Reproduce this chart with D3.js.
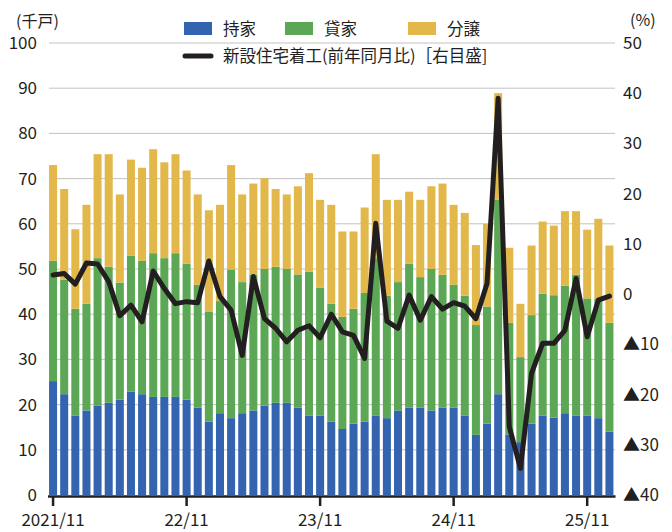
<!DOCTYPE html>
<html>
<head>
<meta charset="utf-8">
<script src="https://cdn.jsdelivr.net/npm/d3@7"></script>
<style>
  body { margin: 0; background: #fff; }
  svg text { font-family: "Noto Sans CJK JP", "Noto Sans", sans-serif; fill: #231f20; }
</style>
</head>
<body>
<div id="container"></div>
<script>
// Size of the svg
const width = 672;
const height = 532;

// Monthly categories, 2021/11 .. 2026/01
const months = [];
for (let y = 2021, m = 11; months.length < 51; m++) {
    if (m > 12) { m = 1; y++; }
    months.push(y + "-" + String(m).padStart(2, "0"));
}

// Housing starts, thousand units
const owner = [25.2, 22.3, 17.6, 18.7, 19.8, 20.4, 21.1, 22.9, 22.3, 21.7, 21.7, 21.7, 21.1,
    19.3, 16.2, 18.1, 17.0, 18.1, 18.7, 19.8, 20.4, 20.4, 19.3, 17.6, 17.6,
    16.2, 14.6, 15.8, 16.2, 17.6, 17.0, 18.7, 19.3, 19.3, 18.7, 19.3, 19.3,
    17.6, 13.3, 15.8, 22.3, 13.4, 11.7, 15.8, 17.6, 17.1, 18.1, 17.6, 17.6, 17.0, 14.0];
const rental = [26.6, 25.3, 23.6, 23.6, 32.6, 30.1, 25.9, 30.0, 29.5, 31.8, 30.7, 31.8, 30.1,
    27.2, 24.4, 24.8, 32.9, 29.0, 30.1, 30.2, 30.1, 29.6, 29.5, 31.8, 28.3,
    26.1, 24.8, 25.4, 28.5, 34.8, 27.1, 28.4, 31.9, 28.9, 31.3, 29.4, 27.2,
    26.5, 24.3, 25.9, 43.0, 24.7, 18.8, 24.0, 26.9, 27.1, 28.2, 31.1, 25.9, 26.5, 24.1];
const condo = [21.2, 20.1, 17.6, 21.9, 23.0, 24.9, 19.5, 21.3, 20.6, 23.0, 21.2, 21.9, 20.6,
    20.0, 22.4, 21.3, 23.1, 19.4, 20.1, 20.1, 17.2, 16.5, 19.5, 21.8, 19.4,
    21.9, 18.9, 17.1, 18.9, 23.0, 21.2, 18.2, 15.9, 17.1, 18.3, 20.2, 17.7,
    18.3, 17.7, 18.3, 23.6, 16.6, 11.8, 15.4, 16.0, 15.4, 16.5, 14.1, 15.2, 17.6, 17.1];

// Year-on-year change of total starts, % (right axis)
const yoy = [3.8, 4.1, 2.0, 6.2, 6.0, 2.5, -4.3, -2.2, -5.5, 4.6, 1.1, -1.9, -1.5,
    -1.7, 6.6, -0.5, -3.2, -12.2, 3.5, -4.9, -6.8, -9.5, -7.2, -6.3, -8.7,
    -4.0, -7.5, -8.2, -12.8, 14.1, -5.4, -6.8, -0.2, -5.2, -0.5, -3.0, -1.7,
    -2.4, -4.9, 2.1, 39.0, -26.4, -34.7, -15.8, -9.8, -9.8, -7.2, 3.1, -8.5, -1.2, -0.4];

// Tick labels on the x axis
const tickMonths = ["2021-11", "2022-11", "2023-11", "2024-11", "2025-11"];
const tickLabels = ["2021/11", "22/11", "23/11", "24/11", "25/11"];

// Series names and colours
const keys = ["owner", "rental", "condo"];
const names = ["持家", "貸家", "分譲"];
const colors = d3.scaleOrdinal().domain(keys).range(["#3463b0", "#5ca755", "#e2b84b"]);

const table = months.map((m, i) => ({ month: m, owner: owner[i], rental: rental[i], condo: condo[i] }));

const svg = d3.select("#container")
    .append("svg")
    .attr("width", width)
    .attr("height", height);

// Scales
const x = d3.scaleBand()
    .domain(months)
    .range([47.5, 615])
    .paddingInner(0.28)
    .paddingOuter(0.14);
const yL = d3.scaleLinear().domain([0, 100]).range([495, 43]);
const yR = d3.scaleLinear().domain([-40, 50]).range([495, 43]);

// Gridlines
svg.append("g")
    .selectAll("line")
    .data(d3.range(10, 101, 10))
    .enter()
    .append("line")
    .attr("x1", 49)
    .attr("x2", 615)
    .attr("y1", d => yL(d))
    .attr("y2", d => yL(d))
    .attr("stroke", "#c2c2c2")
    .attr("stroke-width", 1);

// Stacked bars
const series = d3.stack().keys(keys)(table);
svg.append("g")
    .selectAll("g")
    .data(series)
    .enter()
    .append("g")
    .attr("fill", d => colors(d.key))
    .selectAll("rect")
    .data(d => d)
    .enter()
    .append("rect")
    .attr("x", d => x(d.data.month))
    .attr("y", d => yL(d[1]))
    .attr("width", x.bandwidth())
    .attr("height", d => yL(d[0]) - yL(d[1]));

// Left axis labels
svg.append("g")
    .attr("transform", "translate(37,0)")
    .call(d3.axisLeft(yL).ticks(10).tickSize(0).tickPadding(0))
    .call(g => g.select(".domain").remove())
    .selectAll("text")
    .style("font-size", "17px")
    .style("font-family", "'Noto Sans CJK JP', sans-serif")
    .attr("fill", "#231f20");

// Right axis labels
svg.append("g")
    .attr("transform", "translate(623,0)")
    .call(d3.axisRight(yR)
        .tickValues(d3.range(-40, 51, 10))
        .tickFormat(d => d < 0 ? "▲" + (-d) : d)
        .tickSize(0).tickPadding(0))
    .call(g => g.select(".domain").remove())
    .selectAll("text")
    .style("font-size", "17px")
    .style("font-family", "'Noto Sans CJK JP', sans-serif")
    .attr("fill", "#231f20");

// Line (YoY)
const lineGenerator = d3.line()
    .x((d, i) => x(months[i]) + x.bandwidth() / 2)
    .y(d => yR(d));

svg.append("path")
    .datum(yoy)
    .attr("fill", "none")
    .attr("stroke", "#231f20")
    .attr("stroke-width", 5)
    .attr("stroke-linejoin", "round")
    .attr("stroke-linecap", "round")
    .attr("d", lineGenerator);

// Bottom axis
const xAxis = svg.append("g")
    .attr("transform", "translate(0,496)")
    .call(d3.axisBottom(x)
        .tickValues(tickMonths)
        .tickFormat(d => tickLabels[tickMonths.indexOf(d)])
        .tickSize(10)
        .tickSizeOuter(0)
        .tickPadding(8));
xAxis.select(".domain")
    .attr("stroke", "#231f20")
    .attr("stroke-width", 2.5);
xAxis.selectAll(".tick line")
    .attr("stroke", "#231f20")
    .attr("stroke-width", 2.5);
xAxis.selectAll("text")
    .style("font-size", "17px")
    .style("font-family", "'Noto Sans CJK JP', sans-serif")
    .attr("fill", "#231f20");

// Unit labels
svg.append("text")
    .attr("x", 16)
    .attr("y", 27)
    .attr("font-size", 16)
    .text("(千戸)");
svg.append("text")
    .attr("x", 630)
    .attr("y", 26)
    .attr("font-size", 16)
    .text("(%)");

// Legend
const legendX = [184, 285, 408];
const legend = svg.append("g");
legend.selectAll("rect")
    .data(keys)
    .enter()
    .append("rect")
    .attr("x", (d, i) => legendX[i])
    .attr("y", 22)
    .attr("width", 28)
    .attr("height", 13)
    .attr("fill", d => colors(d));
legend.selectAll("text")
    .data(names)
    .enter()
    .append("text")
    .attr("x", (d, i) => legendX[i] + 39)
    .attr("y", 29)
    .attr("dy", "0.36em")
    .attr("font-size", 16.5)
    .text(d => d);

legend.append("line")
    .attr("x1", 185)
    .attr("x2", 211)
    .attr("y1", 56)
    .attr("y2", 56)
    .attr("stroke", "#231f20")
    .attr("stroke-width", 5)
    .attr("stroke-linecap", "round");
legend.append("text")
    .attr("x", 223)
    .attr("y", 56)
    .attr("dy", "0.36em")
    .attr("font-size", 16.5)
    .text("新設住宅着工(前年同月比)［右目盛]");
</script>
</body>
</html>
